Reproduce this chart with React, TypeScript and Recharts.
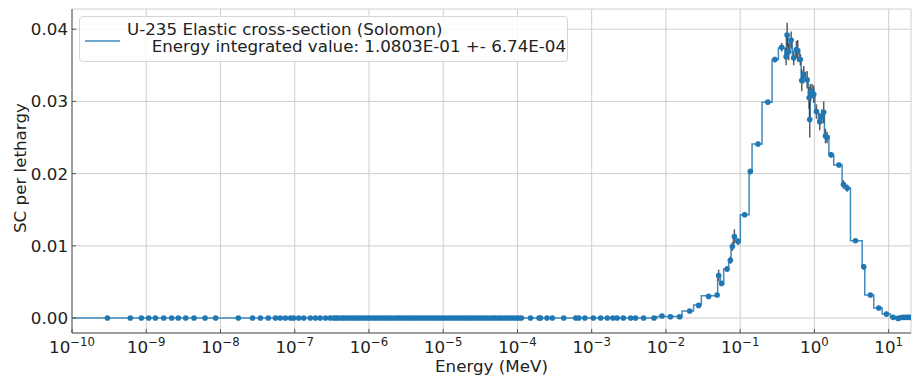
import {
  ComposedChart, Line, Scatter, XAxis, YAxis, CartesianGrid, ErrorBar, Legend
} from 'recharts'

// histogram bins (MeV) and the value of each bin
const binEdges = [
  1e-10, 7.59e-3, 1.65e-2, 2.36e-2, 3.0e-2, 4.97e-2, 5.41e-2, 6.0e-2, 7.0e-2, 7.54e-2,
  8.1e-2, 8.8e-2, 0.1006, 0.132, 0.1446, 0.197, 0.269, 0.327, 0.4, 0.419,
  0.44, 0.468, 0.505, 0.555, 0.628, 0.662, 0.689, 0.757, 0.83, 0.857,
  0.875, 0.911, 0.954, 1.016, 1.132, 1.224, 1.303, 1.364, 1.568, 1.82,
  2.36, 2.62, 3.06, 4.4, 4.77, 6.3, 8.17, 10.57, 12.5, 14.0, 16.0, 20,
]
const binValues = [
  0, 0.0002, 0.00097, 0.0018, 0.0031, 0.0059, 0.0048, 0.0068, 0.008, 0.0099,
  0.0113, 0.0106, 0.0143, 0.0203, 0.0241, 0.0299, 0.0358, 0.0374, 0.0362, 0.0392,
  0.0369, 0.0385, 0.036, 0.0372, 0.0358, 0.0329, 0.034, 0.033, 0.0305, 0.0275,
  0.0312, 0.0314, 0.031, 0.0286, 0.0272, 0.0279, 0.0285, 0.0252, 0.0226, 0.0212,
  0.0185, 0.018, 0.0107, 0.0071, 0.0032, 0.0014, 0.00055, 0.0001, -0.00005, 0.00005, 0.0001,
]

// measured points sitting on zero
const zeroEnergies = [
  3e-10, 6.1e-10, 8.6e-10, 1.08e-9, 1.33e-9, 1.72e-9, 2.2e-9, 2.7e-9, 3.4e-9, 4.4e-9,
  6.2e-9, 8.6e-9, 1.74e-8, 2.7e-8, 3.45e-8, 4.4e-8, 5.5e-8, 6.4e-8, 7.5e-8, 8.8e-8,
  9.7e-8, 1.13e-7, 1.32e-7, 1.62e-7, 1.9e-7, 2.2e-7, 2.6e-7, 3.0e-7, 3.36e-7,
  3.6e-7, 3.9e-7, 4.3e-7, 4.6e-7, 5.0e-7, 5.5e-7, 6.0e-7, 6.5e-7, 7.1e-7, 7.7e-7,
  8.4e-7, 9.2e-7, 1.0e-6, 1.09e-6, 1.19e-6, 1.3e-6, 1.42e-6, 1.55e-6, 1.7e-6, 1.85e-6,
  2.0e-6, 2.2e-6, 2.4e-6, 2.6e-6, 2.85e-6, 3.1e-6, 3.4e-6, 3.7e-6, 4.0e-6, 4.4e-6,
  4.8e-6, 5.2e-6, 5.7e-6, 6.2e-6, 6.8e-6, 7.4e-6, 8.1e-6, 8.8e-6, 9.6e-6, 1.05e-5,
  1.15e-5, 1.25e-5, 1.37e-5, 1.5e-5, 1.63e-5, 1.78e-5, 1.95e-5, 2.12e-5, 2.3e-5, 2.52e-5,
  2.75e-5, 3.0e-5, 3.3e-5, 3.6e-5, 3.9e-5, 4.3e-5, 4.7e-5, 5.1e-5, 5.6e-5, 6.1e-5,
  6.7e-5, 7.3e-5, 8.0e-5, 8.7e-5, 9.5e-5, 1.04e-4, 1.13e-4,
  1.5e-4, 1.95e-4, 2.05e-4, 2.5e-4, 2.95e-4, 4.2e-4, 6.1e-4, 6.7e-4, 8.1e-4, 1.05e-3,
  1.32e-3, 1.62e-3, 1.93e-3, 2.2e-3, 2.67e-3, 3.35e-3, 3.9e-3, 5.0e-3, 6.9e-3,
]

// measured points above zero, with their uncertainty
const peakEnergies = [
  8.85e-3, 1.15e-2, 1.53e-2, 2.09e-2, 2.76e-2, 3.76e-2, 4.89e-2, 5.13e-2, 5.63e-2, 6.66e-2,
  7.38e-2, 7.85e-2, 8.36e-2, 9.38e-2, 0.115, 0.137, 0.174, 0.236, 0.294, 0.362,
  0.416, 0.429, 0.451, 0.486, 0.526, 0.572, 0.596, 0.647, 0.675, 0.718,
  0.798, 0.849, 0.865, 0.883, 0.931, 0.979, 1.064, 1.179, 1.254, 1.334,
  1.41, 1.48, 1.68, 2.14, 2.46, 2.76, 3.57, 4.62, 5.68, 7.36,
  9.34, 11.5, 13.4, 14.4, 15.7, 16.8, 18.1, 19.2,
]
const peakValues = [
  0.00028, 0.00018, 0.00018, 0.00097, 0.00175, 0.003, 0.0032, 0.0059, 0.0048, 0.0068,
  0.008, 0.0099, 0.0113, 0.0106, 0.0143, 0.0203, 0.0241, 0.0299, 0.0358, 0.0375,
  0.0362, 0.0392, 0.0369, 0.0385, 0.036, 0.0372, 0.037, 0.0358, 0.0329, 0.0337,
  0.033, 0.0305, 0.0275, 0.0312, 0.0314, 0.031, 0.0286, 0.0272, 0.0279, 0.0285,
  0.0252, 0.025, 0.0226, 0.0212, 0.0185, 0.018, 0.0107, 0.0071, 0.0032, 0.0014,
  0.00055, 0.0001, -0.00005, 0.00005, 0.0001, 0.0001, 0.0001, 0.0001,
]
const peakErrors = [
  0, 0, 0, 0.0001, 0.0001, 0.0001, 0.0001, 0.0008, 0.0003, 0.0004,
  0.0005, 0.0006, 0.001, 0.0005, 0.0003, 0.0004, 0.0003, 0.0003, 0.0004, 0.0006,
  0.0012, 0.0017, 0.0012, 0.0012, 0.001, 0.0012, 0.0015, 0.0008, 0.0015, 0.0012,
  0.0012, 0.0015, 0.0025, 0.0012, 0.001, 0.0012, 0.001, 0.0012, 0.001, 0.0015,
  0.001, 0.0008, 0.0004, 0.0003, 0.0006, 0.0005, 0.0002, 0.0004, 0.0001, 0.0001,
  0, 0, 0, 0, 0, 0, 0, 0,
]

const xTicks = [1e-10, 1e-9, 1e-8, 1e-7, 1e-6, 1e-5, 1e-4, 1e-3, 1e-2, 1e-1, 1e0, 1e1]
const yTicks = [0, 0.01, 0.02, 0.03, 0.04]
const legendLabel = 'U-235 Elastic cross-section (Solomon)\nEnergy integrated value: 1.0803E-01 +- 6.74E-04'

const stepData = binEdges.map((E, i) => ({ E, v: binValues[Math.min(i, binValues.length - 1)] }))
const pointData = [
  ...zeroEnergies.map(E => ({ E, v: 0, err: 0 })),
  ...peakEnergies.map((E, i) => ({ E, v: peakValues[i], err: peakErrors[i] })),
]

const FONT = '"DejaVu Sans", sans-serif'
const FS = 16.7
const BLUE = '#1f77b4'

const PowTick = (props: any) => {
  const { x, y, payload } = props
  const exp = Math.round(Math.log10(payload.value))
  return (
    <text x={x} y={y + 16} textAnchor="middle" fontFamily={FONT} fill="#222">
      <tspan fontSize={FS}>10</tspan>
      <tspan fontSize={11.7} dy={-7.5}>{exp < 0 ? `\u2212${-exp}` : `${exp}`}</tspan>
    </text>
  )
}

const Dot = (props: any) => <circle cx={props.cx} cy={props.cy} r={2.8} fill={BLUE} />

const LegendBox = () => (
  <div style={{
    width: 489, height: 46, boxSizing: 'border-box', border: '1px solid #d6d6d6',
    borderRadius: 4, background: 'rgba(255,255,255,0.85)', position: 'relative',
    fontFamily: FONT, fontSize: FS, color: '#222',
  }}>
    <svg width={36} height={4} style={{ position: 'absolute', left: 5, top: 22 }}>
      <line x1={0} y1={2} x2={35} y2={2} stroke={BLUE} strokeOpacity={0.65} strokeWidth={2} />
    </svg>
    <div style={{
      position: 'absolute', left: 47, top: 3.6, whiteSpace: 'pre', lineHeight: '17.3px',
      paddingLeft: 24.7, textIndent: -24.7,
    }}>
      {legendLabel}
    </div>
  </div>
)

export default function App() {
  return (
    <div style={{ position: 'absolute', left: 0, top: 0 }}>
      <ComposedChart width={914} height={384} margin={{ top: 9, right: 3, bottom: 0, left: 0 }}>
        <CartesianGrid stroke="#cfcfcf" strokeWidth={1} />
        <XAxis
          dataKey="E" type="number" scale="log" domain={[1e-10, 20]} allowDataOverflow
          ticks={xTicks} tick={<PowTick />} tickSize={-4} tickMargin={8} height={51}
          axisLine={{ stroke: '#555' }} tickLine={{ stroke: '#555' }} interval={0}
          label={{ value: 'Energy (MeV)', position: 'insideBottom', offset: 12, fontFamily: FONT, fontSize: FS, fill: '#222' }}
        />
        <XAxis
          xAxisId="top" orientation="top" dataKey="E" type="number" scale="log" domain={[1e-10, 20]}
          allowDataOverflow ticks={xTicks} tick={false} tickSize={-4} height={0} interval={0}
          axisLine={{ stroke: '#999' }} tickLine={{ stroke: '#555' }}
        />
        <YAxis
          type="number" domain={[-0.00207, 0.0428]} allowDataOverflow ticks={yTicks} interval={0}
          tickFormatter={(v: number) => v.toFixed(2)} width={72} tickSize={-4} tickMargin={8}
          tick={{ fontFamily: FONT, fontSize: FS, fill: '#222' }}
          axisLine={{ stroke: '#555' }} tickLine={{ stroke: '#555' }}
          label={{ value: 'SC per lethargy', angle: -90, position: 'insideLeft', offset: 20, dy: 62, fontFamily: FONT, fontSize: FS, fill: '#222' }}
        />
        <YAxis
          yAxisId="right" orientation="right" type="number" domain={[-0.00207, 0.0428]} allowDataOverflow
          ticks={yTicks} interval={0} tick={false} width={0} tickSize={-4}
          axisLine={{ stroke: '#999' }} tickLine={{ stroke: '#555' }}
        />
        <Line
          data={stepData} dataKey="v" type="stepAfter" stroke={BLUE} strokeOpacity={0.85}
          strokeWidth={1.5} dot={false} activeDot={false} isAnimationActive={false}
        />
        <Scatter data={pointData} dataKey="v" shape={<Dot />} isAnimationActive={false}>
          <ErrorBar dataKey="err" direction="y" width={0} stroke="#333" strokeOpacity={0.8} strokeWidth={1.5} />
        </Scatter>
        <Legend
          layout="vertical" align="center" verticalAlign="middle"
          content={<LegendBox />}
          wrapperStyle={{ left: 79, top: 16, width: 'auto' }}
        />
      </ComposedChart>
    </div>
  )
}
